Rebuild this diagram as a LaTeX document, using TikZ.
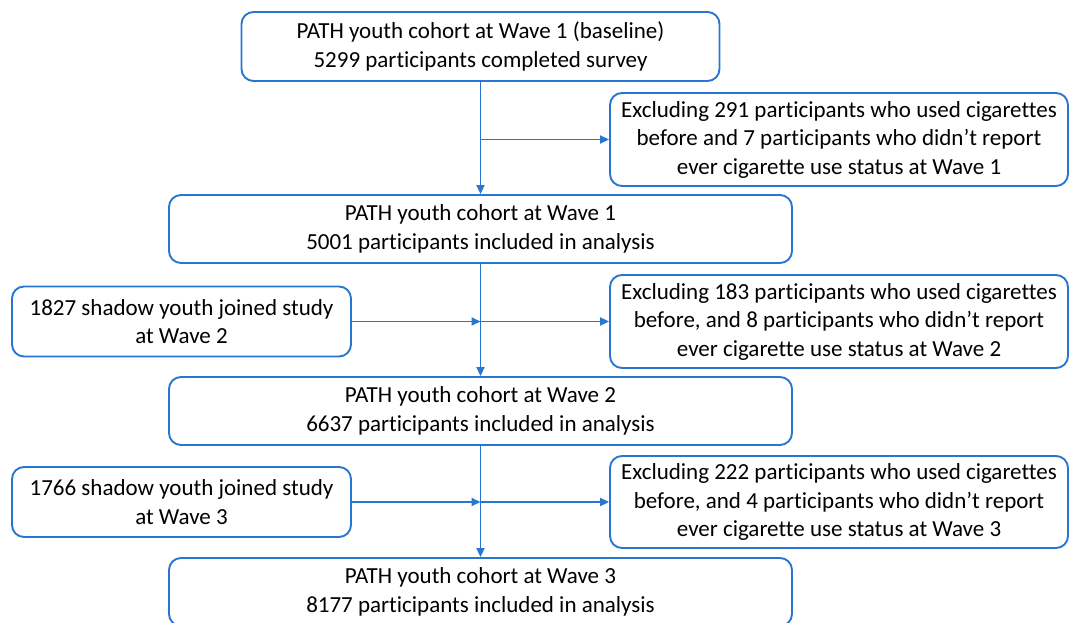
\documentclass[tikz,border=0pt]{standalone}
\usepackage{fontspec}
\setmainfont{Carlito}[RawFeature={-liga}]
\usetikzlibrary{arrows.meta}
\definecolor{fb}{RGB}{40,118,210}
\begin{document}
\begin{tikzpicture}[x=1pt,y=-1pt,
  box/.style={draw=fb, line width=1.9pt, rounded corners=12pt, align=center, inner sep=0pt,
    font=\fontsize{23}{28.5}\selectfont, text=black,
    execute at begin node={\rule{0pt}{22pt}}},
  arr/.style={-{Triangle[length=9pt,width=8pt]}, draw=fb, line width=1.9pt}]
\useasboundingbox (0,0) rectangle (1071,623);
\node[box, minimum width=478pt, minimum height=69pt] (top) at (480.5,46.5)
  {PATH youth cohort at Wave 1 (baseline)\\5299 participants completed survey};
\node[box, minimum width=458pt, minimum height=93pt] (ex1) at (839,139.5)
  {Excluding 291 participants who used cigarettes\\before and 7 participants who didn’t report\\ever cigarette use status at Wave 1};
\node[box, minimum width=623pt, minimum height=68pt] (w1) at (480.5,229)
  {PATH youth cohort at Wave 1\\5001 participants included in analysis};
\node[box, minimum width=339pt, minimum height=70pt] (sh2) at (181.5,321.5)
  {1827 shadow youth joined study\\at Wave 2};
\node[box, minimum width=458pt, minimum height=93pt] (ex2) at (839,321.5)
  {Excluding 183 participants who used cigarettes\\before, and 8 participants who didn’t report\\ever cigarette use status at Wave 2};
\node[box, minimum width=623pt, minimum height=68pt] (w2) at (480.5,411)
  {PATH youth cohort at Wave 2\\6637 participants included in analysis};
\node[box, minimum width=339pt, minimum height=70pt] (sh3) at (181.5,502)
  {1766 shadow youth joined study\\at Wave 3};
\node[box, minimum width=458pt, minimum height=92pt] (ex3) at (839,502)
  {Excluding 222 participants who used cigarettes\\before, and 4 participants who didn’t report\\ever cigarette use status at Wave 3};
\node[box, minimum width=623pt, minimum height=68pt] (w3) at (480.5,592)
  {PATH youth cohort at Wave 3\\8177 participants included in analysis};
\coordinate (j1) at (top.south |- ex1.west);
\coordinate (j2) at (w1.south |- ex2.west);
\coordinate (j3) at (w2.south |- ex3.west);
\draw[arr] (top.south) -- (w1.north);
\draw[arr] (j1) -- (ex1.west);
\draw[arr] (w1.south) -- (w2.north);
\draw[arr] (sh2.east) -- (j2);
\draw[arr] (j2) -- (ex2.west);
\draw[arr] (w2.south) -- (w3.north);
\draw[arr] (sh3.east) -- (j3);
\draw[arr] (j3) -- (ex3.west);
\end{tikzpicture}
\end{document}
